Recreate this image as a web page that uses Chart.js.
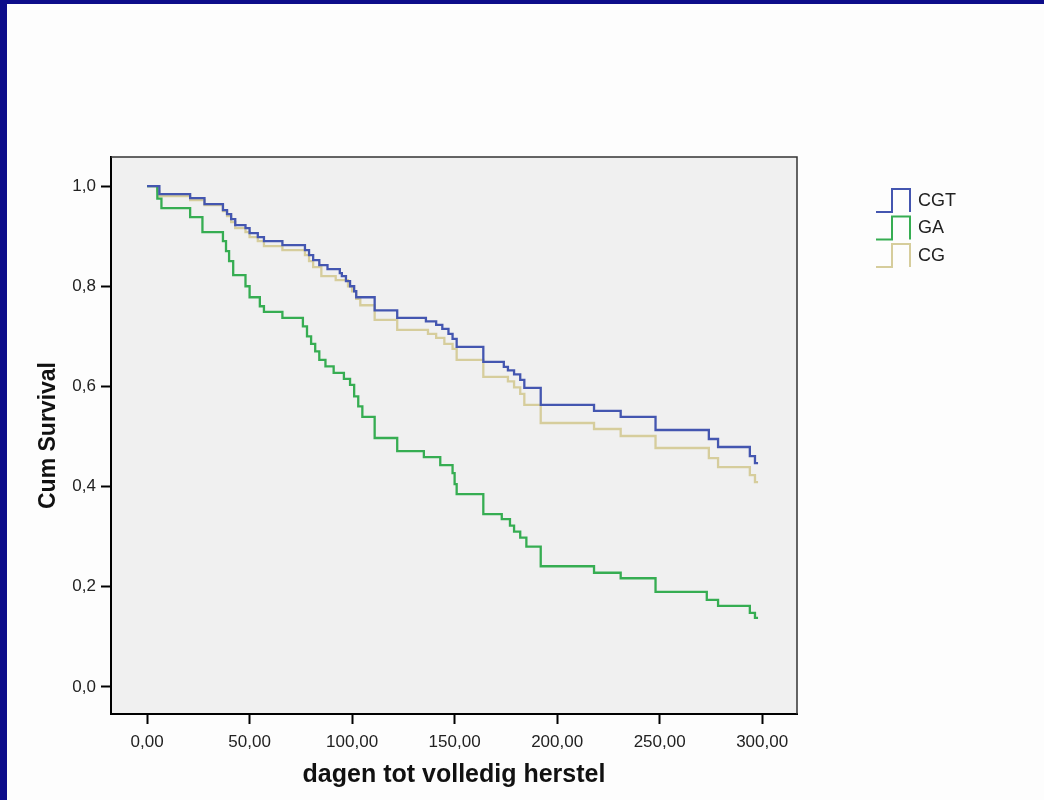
<!DOCTYPE html>
<html>
<head>
<meta charset="utf-8">
<script src="https://cdn.jsdelivr.net/npm/chart.js@4/dist/chart.umd.min.js"></script>
<style>
  body { margin: 0; background: #fdfdfd; }
  #wrap { position: relative; width: 1044px; height: 800px; overflow: hidden; }
  #survivalChart { position: absolute; left: 0; top: 0; }
  .frameTop { position: absolute; left: 0; top: 0; width: 1044px; height: 4px; background: #0d0d8a; }
  .frameLeft { position: absolute; left: 0; top: 0; width: 7px; height: 800px; background: #0d0d8a; }
</style>
</head>
<body>
<div id="wrap">
  <canvas id="survivalChart" width="1044" height="800"></canvas>
  <div class="frameTop"></div>
  <div class="frameLeft"></div>
</div>
<script>
// groups and axis ticks
const groupLabels = ["CGT", "GA", "CG"];
const xTickValues = [0, 50, 100, 150, 200, 250, 300];
const yTickValues = [0, 0.2, 0.4, 0.6, 0.8, 1.0];

// Kaplan-Meier steps (days, cum survival)
const daysCGT = [0, 6, 21, 28, 37, 39, 41, 43, 48, 50, 54, 57, 66, 77, 79, 81, 84, 88, 94, 95, 97, 99, 101, 102, 111, 122, 136, 141, 144, 147, 149, 151, 164, 174, 176, 179, 182, 184, 192, 218, 231, 248, 274, 278.5, 294, 296.5, 298];
const survCGT = [1.0, 0.984, 0.976, 0.964, 0.952, 0.944, 0.934, 0.922, 0.916, 0.906, 0.898, 0.89, 0.882, 0.872, 0.862, 0.852, 0.842, 0.834, 0.826, 0.82, 0.81, 0.80, 0.79, 0.778, 0.752, 0.737, 0.73, 0.723, 0.715, 0.705, 0.695, 0.679, 0.649, 0.639, 0.632, 0.624, 0.613, 0.597, 0.563, 0.551, 0.539, 0.513, 0.495, 0.479, 0.461, 0.447, 0.447];

const daysGA = [0, 5, 7, 21, 27, 37, 38.5, 40, 42, 48, 50, 55, 57, 66, 76, 78, 80, 82, 84, 87, 91, 96, 99, 101, 103, 105, 111, 122, 135, 143, 149, 150, 151, 164, 173, 177, 179, 182, 185, 192, 218, 231, 248, 273, 278.5, 294, 296.5, 298];
const survGA = [1.0, 0.975, 0.956, 0.938, 0.908, 0.89, 0.87, 0.85, 0.822, 0.80, 0.778, 0.76, 0.749, 0.737, 0.72, 0.70, 0.685, 0.67, 0.653, 0.64, 0.627, 0.615, 0.603, 0.58, 0.56, 0.539, 0.497, 0.471, 0.459, 0.443, 0.427, 0.405, 0.385, 0.345, 0.335, 0.322, 0.31, 0.298, 0.28, 0.241, 0.228, 0.217, 0.19, 0.174, 0.162, 0.148, 0.138, 0.138];

const daysCG = [0, 5, 6, 21, 28, 37, 39, 41, 43, 48, 50, 54, 57, 66, 77, 79, 81, 85, 92, 98, 100, 102, 104, 111, 122, 137, 141, 145, 149, 151, 164, 176, 179, 182, 184, 192, 218, 231, 248, 274, 278.5, 294, 296.5, 298];
const survCG = [1.0, 0.99, 0.98, 0.972, 0.962, 0.95, 0.94, 0.928, 0.916, 0.908, 0.898, 0.89, 0.88, 0.872, 0.862, 0.85, 0.838, 0.82, 0.812, 0.80, 0.79, 0.775, 0.762, 0.733, 0.713, 0.705, 0.697, 0.685, 0.675, 0.653, 0.619, 0.61, 0.598, 0.585, 0.563, 0.527, 0.515, 0.501, 0.477, 0.457, 0.439, 0.423, 0.409, 0.409];

const lineColors = ["#4456b0", "#36ad52", "#d6cd9c"];

function toPoints(days, surv) {
  var arr = [];
  days.forEach((d, i) => {
    arr.push({ x: d, y: surv[i] });
  });
  return arr;
}

function decimalComma(value, digits) {
  return value.toFixed(digits).replace(".", ",");
}

// gray plot area with a box round it
const plotBackground = {
  id: "plotBackground",
  beforeDraw(chart) {
    const { ctx, chartArea } = chart;
    ctx.save();
    ctx.fillStyle = "#f0f0f0";
    ctx.fillRect(chartArea.left, chartArea.top, chartArea.width, chartArea.height);
    ctx.restore();
  },
  afterDraw(chart) {
    const { ctx, chartArea } = chart;
    ctx.save();
    ctx.strokeStyle = "#333";
    ctx.lineWidth = 1.5;
    ctx.beginPath();
    ctx.moveTo(chartArea.left, chartArea.top);
    ctx.lineTo(chartArea.right, chartArea.top);
    ctx.lineTo(chartArea.right, chartArea.bottom);
    ctx.stroke();
    ctx.restore();
  },
};

// legend with little step icons, like the SPSS output
const stepLegend = {
  id: "stepLegend",
  afterDraw(chart) {
    const ctx = chart.ctx;
    const x0 = 876;
    const y0 = 201;
    const rowGap = 27.5;
    ctx.save();
    chart.data.datasets.forEach((ds, i) => {
      const cy = y0 + i * rowGap;
      ctx.strokeStyle = ds.borderColor;
      ctx.lineWidth = 2;
      ctx.beginPath();
      ctx.moveTo(x0, cy + 11);
      ctx.lineTo(x0 + 16, cy + 11);
      ctx.lineTo(x0 + 16, cy - 12);
      ctx.lineTo(x0 + 34, cy - 12);
      ctx.lineTo(x0 + 34, cy + 11);
      ctx.stroke();
      ctx.fillStyle = "#222";
      ctx.font = "18px 'Liberation Sans', Arial, sans-serif";
      ctx.textBaseline = "middle";
      ctx.textAlign = "left";
      ctx.fillText(ds.label, x0 + 42, cy);
    });
    ctx.restore();
  },
};

const survivalCanvas = document.getElementById("survivalChart");

new Chart(survivalCanvas, {
  type: "line",
  plugins: [plotBackground, stepLegend],
  data: {
    datasets: [
      { label: groupLabels[0], data: toPoints(daysCGT, survCGT), borderColor: lineColors[0] },
      { label: groupLabels[1], data: toPoints(daysGA, survGA), borderColor: lineColors[1] },
      { label: groupLabels[2], data: toPoints(daysCG, survCG), borderColor: lineColors[2] },
    ],
  },
  options: {
    responsive: false,
    animation: false,
    events: [],
    layout: { padding: { left: 0, top: 157, right: 247, bottom: 0 } },
    elements: {
      line: { stepped: "before", borderWidth: 2.3, tension: 0, fill: false },
      point: { radius: 0 },
    },
    scales: {
      x: {
        type: "linear",
        min: -17.6,
        max: 317,
        afterBuildTicks: (scale) => {
          scale.ticks = xTickValues.map((v) => ({ value: v }));
        },
        afterFit: (scale) => {
          scale.height = 86;
        },
        border: { display: true, color: "#000", width: 2 },
        grid: { drawOnChartArea: false, drawTicks: true, tickLength: 10, tickColor: "#000", tickWidth: 2 },
        ticks: {
          padding: 8,
          color: "#222",
          font: { family: "'Liberation Sans', Arial, sans-serif", size: 17 },
          callback: (value) => decimalComma(value, 2),
        },
        title: {
          display: true,
          text: "dagen tot volledig herstel",
          color: "#111",
          font: { family: "'Liberation Sans', Arial, sans-serif", size: 25, weight: "bold" },
          padding: { top: 0, bottom: 10 },
        },
      },
      y: {
        type: "linear",
        min: -0.054,
        max: 1.058,
        afterBuildTicks: (scale) => {
          scale.ticks = yTickValues.map((v) => ({ value: v }));
        },
        afterFit: (scale) => {
          scale.width = 111;
        },
        border: { display: true, color: "#000", width: 2 },
        grid: { drawOnChartArea: false, drawTicks: true, tickLength: 10, tickColor: "#000", tickWidth: 2 },
        ticks: {
          padding: 5,
          color: "#222",
          font: { family: "'Liberation Sans', Arial, sans-serif", size: 17 },
          callback: (value) => decimalComma(value, 1),
        },
        title: {
          display: true,
          text: "Cum Survival",
          color: "#111",
          font: { family: "'Liberation Sans', Arial, sans-serif", size: 23, weight: "bold" },
          padding: { top: 35, bottom: 0 },
        },
      },
    },
    plugins: {
      legend: { display: false },
      tooltip: { enabled: false },
    },
  },
});
</script>
</body>
</html>
